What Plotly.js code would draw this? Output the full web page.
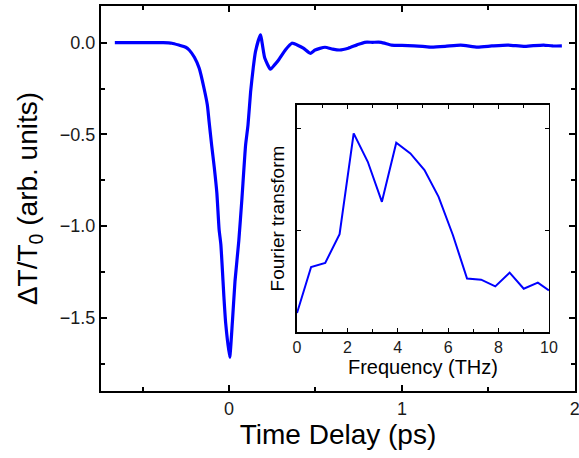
<!DOCTYPE html>
<html>
<head>
<meta charset="utf-8">
<script src="https://cdn.plot.ly/plotly-3.0.1.min.js"></script>
<style>html,body{margin:0;padding:0;background:#fff;}#chart{width:579px;height:458px;}</style>
</head>
<body>
<div id="chart"></div>
<script>
// Main trace: time delay (ps) vs ΔT/T0
var timeDelay = [-0.66, -0.55, -0.45, -0.38, -0.33, -0.29, -0.25, -0.23, -0.2, -0.172, -0.144, -0.125, -0.115, -0.1, -0.085, -0.07, -0.057, -0.047, -0.029, -0.019, 0.004, 0.02, 0.035, 0.057, 0.075, 0.096, 0.11, 0.125, 0.14, 0.153, 0.182, 0.207, 0.24, 0.265, 0.287, 0.326, 0.364, 0.40, 0.43, 0.47, 0.498, 0.555, 0.6, 0.64, 0.69, 0.74, 0.785, 0.83, 0.88, 0.94, 1.0, 1.07, 1.12, 1.17, 1.25, 1.34, 1.437, 1.52, 1.61, 1.705, 1.76, 1.82, 1.87, 1.925];
var deltaT = [0.0, 0.0, 0.0, 0.0, -0.003, -0.013, -0.025, -0.04, -0.08, -0.14, -0.25, -0.34, -0.43, -0.56, -0.68, -0.82, -1.02, -1.1, -1.39, -1.53, -1.716, -1.52, -1.3, -1.08, -0.85, -0.56, -0.45, -0.27, -0.14, -0.05, 0.042, -0.084, -0.145, -0.12, -0.095, -0.04, -0.003, -0.015, -0.03, -0.058, -0.04, -0.025, -0.035, -0.04, -0.03, -0.012, 0.002, 0.002, 0.002, -0.013, -0.015, -0.017, -0.02, -0.024, -0.02, -0.013, -0.024, -0.018, -0.013, -0.02, -0.016, -0.013, -0.018, -0.017];

// Inset: Fourier transform spectrum
var frequency = [0, 0.56, 1.12, 1.69, 2.25, 2.81, 3.37, 3.94, 4.5, 5.06, 5.62, 6.19, 6.75, 7.31, 7.87, 8.44, 9.0, 9.56, 10.0];
var fourier = [0.187, 0.639, 0.679, 0.961, 1.951, 1.672, 1.279, 1.859, 1.754, 1.59, 1.328, 0.951, 0.525, 0.515, 0.449, 0.584, 0.426, 0.485, 0.41];

var font = 'Liberation Sans, Arial, sans-serif';

var traces = [
  {x: timeDelay, y: deltaT, type: 'scatter', mode: 'lines',
   line: {color: '#0000ff', width: 3.2, shape: 'spline', smoothing: 0.5}, xaxis: 'x', yaxis: 'y', hoverinfo: 'none'},
  {x: frequency, y: fourier, type: 'scatter', mode: 'lines',
   line: {color: '#0000ff', width: 2}, xaxis: 'x2', yaxis: 'y2', hoverinfo: 'none'}
];

var layout = {
  width: 579, height: 458,
  margin: {l: 101, r: 4, t: 6, b: 67},
  paper_bgcolor: '#ffffff', plot_bgcolor: '#ffffff',
  showlegend: false,
  font: {family: font, color: '#000'},
  xaxis: {
    range: [-0.74, 2.001], dtick: 1, tick0: 0,
    showline: true, linecolor: '#000', linewidth: 2, mirror: 'allticks',
    ticks: 'inside', ticklen: 6, tickwidth: 2, tickcolor: '#000',
    minor: {ticks: 'inside', dtick: 0.5, ticklen: 4, tickwidth: 2, tickcolor: '#000'},
    showgrid: false, zeroline: false, ticklabeloverflow: 'allow',
    tickfont: {size: 18, family: font, color: '#1a1a1a'},
    title: {text: 'Time Delay (ps)', font: {size: 28, family: font, color: '#000'}, standoff: 2}
  },
  yaxis: {
    range: [-1.9, 0.2], dtick: 0.5, tick0: 0, tickformat: '.1f',
    showline: true, linecolor: '#000', linewidth: 2, mirror: 'allticks',
    ticks: 'inside', ticklen: 6, tickwidth: 2, tickcolor: '#000',
    minor: {ticks: 'inside', dtick: 0.25, ticklen: 4, tickwidth: 2, tickcolor: '#000'},
    showgrid: false, zeroline: false,
    tickfont: {size: 18, family: font, color: '#1a1a1a'},
    title: {text: 'ΔT/T<sub>0</sub> (arb. units)', font: {size: 28, family: font, color: '#000'}, standoff: 14}
  },
  xaxis2: {
    domain: [0.4135, 0.945], anchor: 'y2',
    range: [0, 10], dtick: 2, tick0: 0,
    showline: true, linecolor: '#000', linewidth: 1.5, mirror: 'allticks',
    ticks: 'inside', ticklen: 4, tickwidth: 1, tickcolor: '#000',
    minor: {ticks: 'inside', dtick: 1, ticklen: 3, tickwidth: 1, tickcolor: '#000'},
    showgrid: false, zeroline: false,
    tickfont: {size: 16, family: font, color: '#1a1a1a'},
    title: {text: 'Frequency (THz)', font: {size: 20, family: font, color: '#000'}, standoff: 2}
  },
  yaxis2: {
    domain: [0.153, 0.743], anchor: 'x2',
    range: [0, 2.23], dtick: 1, tick0: 0,
    showline: true, linecolor: '#000', linewidth: 1.5, mirror: 'allticks',
    ticks: 'inside', ticklen: 4, tickwidth: 1, tickcolor: '#000',
    showticklabels: false,
    showgrid: false, zeroline: false,
    title: {text: 'Fourier transform', font: {size: 19, family: font, color: '#000'}, standoff: 6}
  }
};

Plotly.newPlot('chart', traces, layout, {staticPlot: true, displayModeBar: false});
</script>
</body>
</html>
